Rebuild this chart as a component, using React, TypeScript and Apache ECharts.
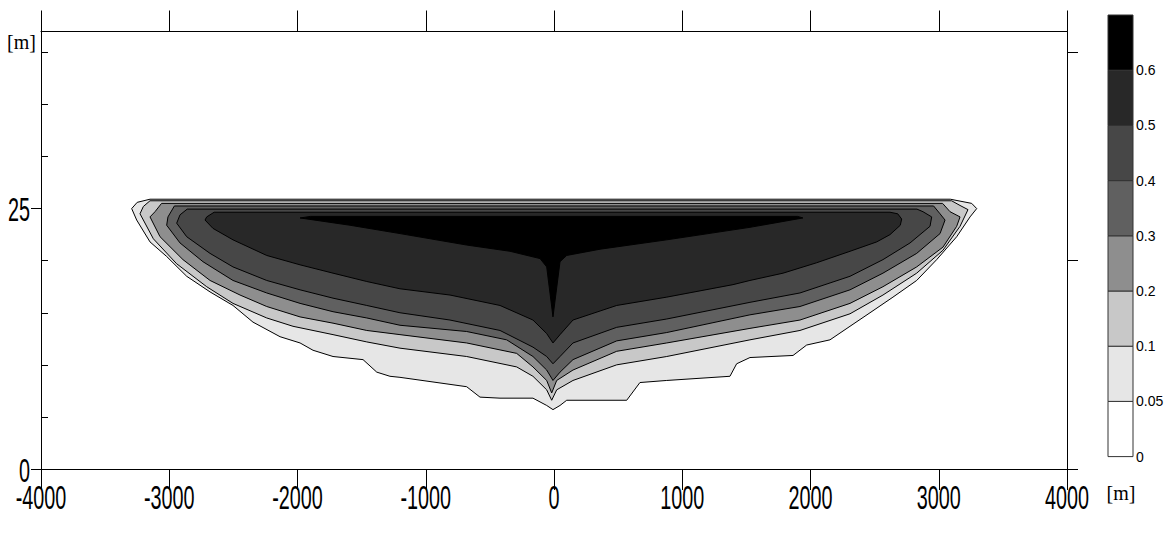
import { useEffect, useRef } from "react";
import * as echarts from "echarts";

// Axis ticks and colour-scale levels
const xTicks = [-4000, -3000, -2000, -1000, 0, 1000, 2000, 3000, 4000];
const yTicks = [0, 25];
const levelLabels = ["0", "0.05", "0.1", "0.2", "0.3", "0.4", "0.5", "0.6"];
const bandColors = ["#ffffff", "#e6e6e6", "#c8c8c8", "#8e8e8e", "#606060", "#474747", "#282828", "#000000"];

// Contour outlines [x (m), depth (m)], one per level, outermost first
const contour005 = [
  [-3293, 25.0], [-3250, 25.6], [-3150, 25.9], [3090, 25.9], [3257, 25.5], [3296, 25.0],
  [3244, 24.2], [3140, 22.3], [2984, 20.1], [2828, 18.1], [2643, 16.5], [2464, 15.0],
  [2308, 13.7], [2152, 12.4], [1970, 11.9], [1864, 10.9], [1528, 10.7], [1424, 10.1],
  [1372, 8.9], [879, 8.5], [670, 8.3], [567, 6.6], [99, 6.6], [47, 6.1], [-8, 5.7],
  [-57, 6.1], [-164, 6.8], [-421, 6.8], [-577, 6.9], [-681, 7.9], [-1201, 8.8],
  [-1279, 8.9], [-1382, 9.3], [-1489, 10.5], [-1723, 10.8], [-1879, 11.4], [-1980, 12.1],
  [-2136, 12.7], [-2347, 14.1], [-2503, 15.7], [-2682, 17.0], [-2864, 18.5], [-3020, 20.4],
  [-3150, 21.8], [-3254, 23.9],
];
const contour01 = [
  [-3228, 24.5], [-3202, 25.2], [-3150, 25.75], [3100, 25.75], [3166, 25.3], [3228, 24.9],
  [3166, 23.3], [3033, 21.0], [2828, 18.8], [2565, 16.7], [2308, 14.9], [1918, 13.3],
  [1528, 12.4], [879, 10.8], [489, 10.0], [148, 8.5], [21, 7.6], [-18, 6.6], [-57, 7.6],
  [-164, 8.9], [-291, 9.8], [-681, 10.8], [-1201, 11.6], [-1460, 12.2], [-1723, 12.9],
  [-2035, 13.7], [-2240, 14.5], [-2503, 15.9], [-2708, 17.5], [-2942, 19.7], [-3124, 22.1],
];
const contour02 = [
  [-3150, 24.2], [-3111, 24.7], [-3060, 25.5], [3030, 25.5], [3088, 24.7], [3166, 24.2],
  [3140, 23.3], [3033, 21.3], [2828, 19.4], [2565, 17.5], [2308, 15.9], [1918, 14.3],
  [1528, 13.5], [879, 12.1], [489, 11.3], [148, 9.5], [21, 8.5], [-18, 7.3], [-57, 8.5],
  [-164, 9.8], [-291, 11.1], [-681, 12.1], [-1201, 12.9], [-1460, 13.3], [-1723, 14.0],
  [-1980, 14.6], [-2240, 15.6], [-2448, 16.7], [-2682, 18.1], [-2893, 20.1], [-3072, 22.3],
];
const contour03 = [
  [-3020, 23.4], [-3010, 24.2], [-2960, 25.25], [2960, 25.25], [3010, 24.5], [3049, 23.9],
  [3010, 22.6], [2828, 20.7], [2565, 18.8], [2308, 17.2], [1918, 15.6], [1528, 14.8],
  [879, 13.1], [489, 12.3], [148, 10.5], [47, 9.3], [-8, 8.5], [-57, 9.5], [-164, 10.8],
  [-369, 12.4], [-681, 13.2], [-1201, 13.8], [-1460, 14.5], [-1723, 15.1], [-1980, 15.9],
  [-2240, 16.9], [-2503, 18.1], [-2737, 19.9], [-2916, 21.7],
];
const contour04 = [
  [-2942, 23.6], [-2916, 24.4], [-2860, 24.95], [2830, 24.95], [2877, 24.7], [2945, 24.2],
  [2932, 23.3], [2776, 21.7], [2565, 20.1], [2308, 18.5], [1918, 16.9], [1528, 16.0],
  [879, 14.4], [489, 13.6], [148, 12.1], [47, 10.8], [-8, 10.1], [-57, 10.8], [-164, 11.7],
  [-421, 13.3], [-811, 14.3], [-1201, 15.0], [-1460, 15.7], [-1723, 16.4], [-1980, 17.2],
  [-2240, 18.1], [-2503, 19.4], [-2682, 20.7], [-2864, 22.3],
];
const contour05 = [
  [-2721, 23.9], [-2708, 24.2], [-2650, 24.65], [2620, 24.65], [2680, 24.5], [2711, 24.0],
  [2700, 23.4], [2620, 22.5], [2516, 21.8], [2308, 20.9], [2048, 19.8], [1786, 18.8],
  [1528, 18.1], [1396, 17.7], [879, 16.5], [489, 15.7], [148, 14.3], [47, 12.9], [-8, 12.1],
  [-57, 13.0], [-164, 14.3], [-421, 15.7], [-811, 16.7], [-1201, 17.3], [-1460, 18.0],
  [-1723, 18.8], [-1980, 19.6], [-2240, 20.5], [-2503, 22.0], [-2659, 23.1],
];
const contour06 = [
  [-1980, 24.1], [-1900, 24.25], [1900, 24.25], [1941, 24.1], [1528, 23.2], [879, 22.0],
  [359, 21.1], [99, 20.5], [47, 19.9], [-8, 14.6], [-57, 19.4], [-109, 20.2], [-343, 20.9],
  [-681, 21.5], [-1201, 22.6], [-1590, 23.4],
];

const contours = [contour005, contour01, contour02, contour03, contour04, contour05, contour06];

const tickFont = "'Liberation Sans', Arial, sans-serif";
const unitFont = "'Liberation Serif', 'Times New Roman', serif";

export default function App() {
  const ref = useRef<HTMLDivElement>(null);

  useEffect(() => {
    if (!ref.current) return;
    const chart = echarts.init(ref.current, null, { renderer: "svg" });

    const blackLine = { lineStyle: { color: "#000", width: 1 } };

    chart.setOption({
      animation: false,
      backgroundColor: "#ffffff",
      grid: [
        { left: 41, right: 107, top: 31.5, bottom: 69 },
        { left: 1108, width: 25, top: 15, bottom: 81.4 },
      ],
      xAxis: [
        {
          type: "value", gridIndex: 0, position: "bottom", min: -4000, max: 4000, interval: 1000,
          axisLine: { onZero: false, ...blackLine },
          axisTick: { length: 21, ...blackLine },
          axisLabel: { show: false }, splitLine: { show: false },
        },
        {
          type: "value", gridIndex: 0, position: "top", min: -4000, max: 4000, interval: 1000,
          axisLine: { onZero: false, ...blackLine },
          axisTick: { length: 21, ...blackLine },
          axisLabel: { show: false }, splitLine: { show: false },
        },
        { type: "value", gridIndex: 1, min: 0, max: 1, show: false },
      ],
      yAxis: [
        {
          type: "value", gridIndex: 0, position: "left", min: 0, max: 42,
          axisLine: { onZero: false, ...blackLine },
          axisTick: { customValues: yTicks, length: 10, ...blackLine },
          axisLabel: { show: false }, splitLine: { show: false },
        },
        {
          type: "value", gridIndex: 0, position: "left", min: 0, max: 42,
          axisLine: { show: false, onZero: false },
          axisTick: { customValues: [5, 10, 15, 20, 30, 35, 40], inside: true, length: 7, ...blackLine },
          axisLabel: { show: false }, splitLine: { show: false },
        },
        {
          type: "value", gridIndex: 0, position: "right", min: 0, max: 42,
          axisLine: { onZero: false, ...blackLine },
          axisTick: { customValues: [0, 20, 40], length: 11, ...blackLine },
          axisLabel: { show: false }, splitLine: { show: false },
        },
        {
          type: "value", gridIndex: 1, position: "right", min: 0, max: 8, interval: 1,
          axisLine: { show: false, onZero: false },
          axisTick: { show: false },
          splitLine: { show: false },
          axisLabel: {
            margin: 3, fontSize: 14, color: "#000", fontFamily: tickFont,
            formatter: (v: number) => levelLabels[v] ?? "",
          },
        },
      ],
      series: [
        {
          type: "custom",
          xAxisIndex: 0,
          yAxisIndex: 0,
          silent: true,
          data: contours.map((c) => c[0]),
          renderItem: (params: any, api: any) => {
            const pts = contours[params.dataIndex].map((p) => api.coord(p));
            return {
              type: "polygon",
              shape: { points: pts },
              style: { fill: bandColors[params.dataIndex + 1], stroke: "#000", lineWidth: 1 },
            };
          },
        },
        {
          type: "custom",
          xAxisIndex: 2,
          yAxisIndex: 3,
          silent: true,
          data: bandColors.map((_, i) => [0, i]),
          renderItem: (params: any, api: any) => {
            const i = params.dataIndex;
            const a = api.coord([0, i + 1]);
            const b = api.coord([1, i]);
            return {
              type: "rect",
              shape: { x: a[0], y: a[1], width: b[0] - a[0], height: b[1] - a[1] },
              style: { fill: bandColors[i], stroke: "#333", lineWidth: 1 },
            };
          },
        },
      ],
    });

    // Condensed tick labels placed at the axes' own tick positions
    const labels: any[] = [];
    const y0 = chart.convertToPixel({ yAxisIndex: 0 }, 0) as number;
    xTicks.forEach((v) => {
      const px = chart.convertToPixel({ xAxisIndex: 0 }, v) as number;
      labels.push({
        type: "text", x: px, y: y0 + 28, scaleX: 0.6, silent: true,
        style: { text: String(v), fontSize: 33, fontFamily: tickFont, fill: "#000", align: "center", verticalAlign: "middle" },
      });
    });
    yTicks.forEach((v) => {
      const py = chart.convertToPixel({ yAxisIndex: 0 }, v) as number;
      labels.push({
        type: "text", x: 30, y: py + 1, scaleX: 0.6, silent: true,
        style: { text: String(v), fontSize: 33, fontFamily: tickFont, fill: "#000", align: "right", verticalAlign: "middle" },
      });
    });
    labels.push({
      type: "text", x: 21.5, y: 42, silent: true,
      style: { text: "[m]", fontSize: 20, fontFamily: unitFont, fill: "#000", align: "center", verticalAlign: "middle" },
    });
    labels.push({
      type: "text", x: 1121, y: 493, silent: true,
      style: { text: "[m]", fontSize: 20, fontFamily: unitFont, fill: "#000", align: "center", verticalAlign: "middle" },
    });
    chart.setOption({ graphic: labels });

    return () => chart.dispose();
  }, []);

  return (
    <div
      ref={ref}
      style={{ position: "fixed", left: 0, top: 0, width: 1174, height: 538, background: "#fff" }}
    />
  );
}
